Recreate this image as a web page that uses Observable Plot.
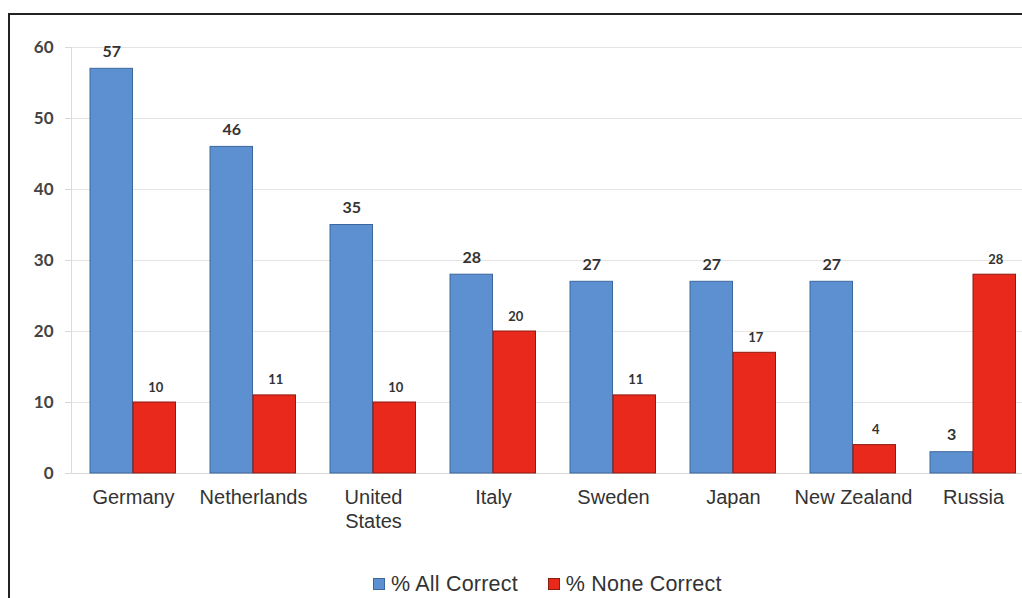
<!DOCTYPE html>
<html><head><meta charset="utf-8">
<script src="https://cdn.jsdelivr.net/npm/d3@7"></script>
<script src="https://cdn.jsdelivr.net/npm/@observablehq/plot@0.6"></script>
<style>
html,body{margin:0;padding:0;background:#fff;overflow:hidden;width:1022px;height:598px}
#wrap{position:relative;width:1022px;height:598px;overflow:hidden;background:#fff}
#chart{position:absolute;left:0;top:0}
#chart svg{max-width:none !important}
#border{position:absolute;left:8px;top:13px;width:1100px;height:700px;border-top:2px solid #222;border-left:2px solid #222;pointer-events:none}
#legend{position:absolute;top:571px;left:373px;display:flex;align-items:center;font-family:"Liberation Sans",Arial,sans-serif;font-size:21.5px;color:#333;letter-spacing:0.2px;line-height:26px}
#legend .sw{display:inline-block;width:10px;height:10px;margin-right:6px;border:1px solid}
#legend .item{display:flex;align-items:center;margin-right:30px}
</style></head>
<body><div id="wrap"><div id="chart"></div><div id="border"></div><div id="legend"></div></div>
<script>
const countries = ["Germany","Netherlands","United States","Italy","Sweden","Japan","New Zealand","Russia"];
const allCorrect = [57,46,35,28,27,27,27,3];
const noneCorrect = [10,11,10,20,11,17,4,28];
const seriesNames = ["% All Correct","% None Correct"];
const yTicks = [0,10,20,30,40,50,60];

const blue = "#5D90D0", blueEdge = "#3C679C";
const red = "#E8291C", redEdge = "#8E1B12";

const idx = countries.map((c, i) => i);

const chart = Plot.plot({
  width: 1040,
  height: 540,
  marginLeft: 71,
  marginRight: 5,
  marginTop: 47,
  marginBottom: 67,
  style: {fontFamily: "Lato, 'Liberation Sans', sans-serif", background: "transparent", overflow: "visible", maxWidth: "none"},
  x: {domain: countries, padding: 0},
  y: {domain: [0, 60]},
  marks: [
    Plot.gridY(yTicks, {stroke: "#e4e4e4", strokeOpacity: 1}),
    Plot.ruleY([0], {stroke: "#d8d8d8"}),
    Plot.frame({anchor: "left", stroke: "#dcdcdc"}),
    Plot.axisY(yTicks, {tickSize: 6, tickPadding: 12, stroke: "#d8d8d8", fontSize: 17, fontWeight: "bold", fill: "#444", label: null}),
    Plot.axisX({tickSize: 0, tickPadding: 13, fontSize: 20, lineHeight: 1.2, fill: "#333", fontFamily: "'Liberation Sans', Arial, sans-serif", lineAnchor: "top", label: null,
      tickFormat: d => d === "United States" ? "United\nStates" : d}),
    Plot.barY(idx, {x: i => countries[i], y: i => allCorrect[i], fill: blue, stroke: blueEdge, strokeWidth: 1, insetLeft: 17, insetRight: 60.5}),
    Plot.barY(idx, {x: i => countries[i], y: i => noneCorrect[i], fill: red, stroke: redEdge, strokeWidth: 1, insetLeft: 60, insetRight: 17.5}),
    Plot.text(idx, {x: i => countries[i], y: i => allCorrect[i], text: i => String(allCorrect[i]), dx: -21.75, dy: -12, lineAnchor: "bottom", fontSize: 16, fontWeight: "bold", fill: "#333"}),
    Plot.text(idx, {x: i => countries[i], y: i => noneCorrect[i], text: i => String(noneCorrect[i]), dx: 22.25, dy: -11, lineAnchor: "bottom", fontSize: 13, fontWeight: "bold", fill: "#333"})
  ]
});
document.getElementById("chart").appendChild(chart);

const legend = document.getElementById("legend");
[[seriesNames[0], blue, blueEdge], [seriesNames[1], red, redEdge]].forEach(([name, c, e]) => {
  const item = document.createElement("span");
  item.className = "item";
  const sw = document.createElement("span");
  sw.className = "sw";
  sw.style.background = c;
  sw.style.borderColor = e;
  item.appendChild(sw);
  item.appendChild(document.createTextNode(name));
  legend.appendChild(item);
});
</script></body></html>
